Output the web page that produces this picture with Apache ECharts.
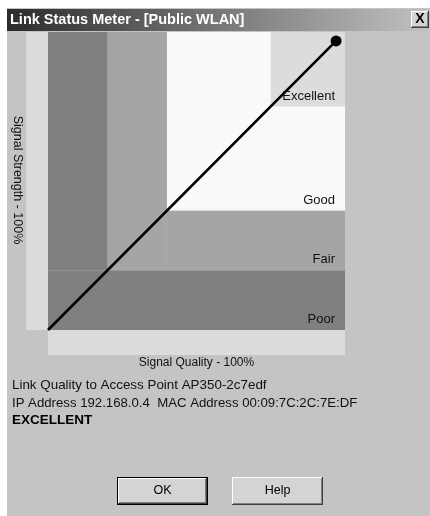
<!DOCTYPE html>
<html><head><meta charset="utf-8">
<script src="https://cdn.jsdelivr.net/npm/echarts@6/dist/echarts.min.js"></script>
<style>html,body{margin:0;padding:0;background:#fff}#c{width:430px;height:516px}</style>
</head><body><div id="c"></div>
<script>
// ---- data ----
const zoneNames = ['Poor', 'Fair', 'Good', 'Excellent'];
const zoneUpper = [20, 40, 100];          // upper bound (both axes) of Poor, Fair, Good
const excellentFrom = 75;                 // Excellent corner starts here on both axes
const qualityValues = [0, 97];            // Signal Quality (%)
const strengthValues = [0, 97];           // Signal Strength (%)
const xAxisName = 'Signal Quality - 100%';
const yAxisName = 'Signal Strength - 100%';
const titleText = 'Link Status Meter - [Public WLAN]';
const infoLines = ['Link Quality to Access Point AP350-2c7edf', 'IP Address 192.168.0.4  MAC Address 00:09:7C:2C:7E:DF'];
const statusText = 'EXCELLENT';
const buttonLabels = ['OK', 'Help'];

// ---- styles ----
const zoneColors = { Poor: '#808080', Fair: '#a5a5a5', Good: '#f9f9f9', Excellent: '#dcdcdc' };
const BODY = '#c4c4c4', LIGHT = '#dcdcdc', FONT = 'Liberation Sans, Arial, sans-serif';
const G = { left: 48, top: 32, width: 297, height: 298 };

const lab = (name) => ({ show: true, formatter: name, position: 'insideBottomRight', distance: 4, offset: [-6, 0],
  color: '#111', fontSize: 13, fontFamily: FONT });
const area = (name, a, b, withLabel) => [
  { coord: a, itemStyle: { color: zoneColors[name], opacity: 1, borderWidth: 0 }, label: withLabel ? lab(name) : { show: false } },
  { coord: b }
];
const [pMax, fMax, gMax] = zoneUpper;
const areas = [
  area('Good', [fMax, fMax], [gMax, gMax], true),
  area('Excellent', [excellentFrom, excellentFrom], [gMax, gMax], true),
  area('Fair', [fMax, pMax], [gMax, fMax], true),
  area('Fair', [pMax, pMax], [fMax, gMax], false),
  area('Poor', [0, 0], [gMax, pMax], true),
  area('Poor', [0, pMax], [pMax, gMax], false)
];

const linePts = qualityValues.map((q, i) => i === qualityValues.length - 1
  ? { value: [q, strengthValues[i]], symbol: 'circle', symbolSize: 11 }
  : { value: [q, strengthValues[i]], symbol: 'none' });

function button(x, y, w, h, text, isDefault) {
  const els = [];
  let ox = x, oy = y, ow = w, oh = h;
  if (isDefault) {
    els.push({ type: 'rect', shape: { x, y, width: w, height: h }, style: { fill: '#000' } });
    ox = x + 1; oy = y + 1; ow = w - 2; oh = h - 2;
  }
  els.push({ type: 'rect', shape: { x: ox, y: oy, width: ow, height: oh }, style: { fill: '#404040' } });
  els.push({ type: 'rect', shape: { x: ox, y: oy, width: ow - 1, height: oh - 1 }, style: { fill: '#ffffff' } });
  els.push({ type: 'rect', shape: { x: ox + 1, y: oy + 1, width: ow - 2, height: oh - 2 }, style: { fill: '#808080' } });
  els.push({ type: 'rect', shape: { x: ox + 1, y: oy + 1, width: ow - 3, height: oh - 3 }, style: { fill: '#d4d4d4' } });
  els.push({ type: 'text', x: x + w / 2, y: y + h / 2, style: { text, fill: '#000', font: '12.5px ' + FONT, textAlign: 'center', textVerticalAlign: 'middle' } });
  return els;
}

const graphics = [
  { type: 'rect', z: -10, shape: { x: 7, y: 8, width: 423, height: 508 }, style: { fill: BODY } },
  { type: 'rect', z: -10, shape: { x: 7, y: 9, width: 423, height: 22 },
    style: { fill: new echarts.graphic.LinearGradient(0, 0, 1, 0, [{ offset: 0, color: '#2c2c2c' }, { offset: 1, color: '#c2c2c2' }]) } },
  { type: 'text', x: 10, y: 20, style: { text: titleText, fill: '#fff', font: 'bold 14.5px ' + FONT, textVerticalAlign: 'middle' } },
  ...button(411, 11, 18, 17, '', false),
  { type: 'text', x: 420, y: 19.5, style: { text: 'X', fill: '#000', font: 'bold 14px ' + FONT, textAlign: 'center', textVerticalAlign: 'middle' } },
  { type: 'rect', z: -9, shape: { x: 26, y: G.top, width: G.left - 26, height: G.height }, style: { fill: LIGHT } },
  { type: 'rect', z: -9, shape: { x: G.left, y: G.top + G.height, width: G.width, height: 25 }, style: { fill: LIGHT } },
  { type: 'text', x: 17, y: 180, rotation: -Math.PI / 2, style: { text: yAxisName, fill: '#111', font: '12.5px ' + FONT, textAlign: 'center', textVerticalAlign: 'middle' } },
  { type: 'text', x: G.left + G.width / 2, y: 363, style: { text: xAxisName, fill: '#111', font: '12px ' + FONT, textAlign: 'center', textVerticalAlign: 'middle' } },
  { type: 'text', x: 12, y: 385, style: { text: infoLines[0], fill: '#111', font: '13.4px ' + FONT, textVerticalAlign: 'middle' } },
  { type: 'text', x: 12, y: 403, style: { text: infoLines[1], fill: '#111', font: '13.2px ' + FONT, textVerticalAlign: 'middle' } },
  { type: 'text', x: 12, y: 420, style: { text: statusText, fill: '#000', font: 'bold 13.5px ' + FONT, textVerticalAlign: 'middle' } },
  ...button(117, 477, 91, 28, buttonLabels[0], true),
  ...button(232, 477, 91, 28, buttonLabels[1], false)
];

const chart = echarts.init(document.getElementById('c'), null, { renderer: 'canvas' });
chart.setOption({
  animation: false,
  backgroundColor: '#ffffff',
  grid: { left: G.left, top: G.top, width: G.width, height: G.height },
  xAxis: { type: 'value', min: 0, max: 100, show: false },
  yAxis: { type: 'value', min: 0, max: 100, show: false },
  graphic: { elements: graphics },
  series: [
    { type: 'line', data: [], silent: true, markArea: { silent: true, data: areas } },
    { type: 'line', data: linePts, silent: true, z: 5, lineStyle: { color: '#000', width: 2.6 }, itemStyle: { color: '#000' } }
  ]
});
</script></body></html>
